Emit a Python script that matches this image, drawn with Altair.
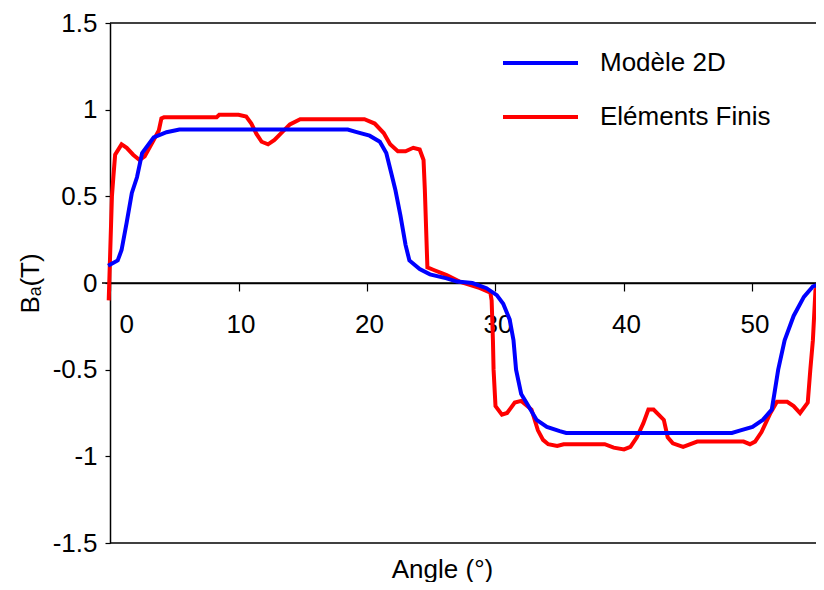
import altair as alt
import pandas as pd

series_names = ["Modèle 2D", "Eléments Finis"]
series_colors = ["#0000ff", "#ff0000"]

# Modèle 2D (blue)
blue_x = [-0.15, 0.6, 0.9, 1.3, 1.7, 2.1, 2.5, 3.4, 4.4, 5.4, 18.5, 19.2, 20.2, 21.0, 21.5,
          21.9, 22.2, 22.6, 23.0, 23.3, 24.1, 24.9, 26.2, 27.0, 28.2, 29.3, 30.1, 30.6, 31.1,
          31.4, 31.6, 32.0, 32.4, 33.2, 34.0, 35.0, 35.5, 48.4, 49.0, 50.0, 50.8, 51.5, 51.7,
          52.0, 52.5, 53.2, 54.0, 54.7, 55.5]
blue_y = [0.10, 0.13, 0.19, 0.35, 0.52, 0.61, 0.75, 0.84, 0.87, 0.885, 0.885, 0.87, 0.85, 0.815, 0.75,
          0.63, 0.54, 0.39, 0.22, 0.13, 0.08, 0.05, 0.027, 0.008, 0.0, -0.03, -0.07, -0.12, -0.21,
          -0.33, -0.50, -0.64, -0.69, -0.79, -0.83, -0.855, -0.865, -0.865, -0.852, -0.83, -0.79, -0.73, -0.64,
          -0.50, -0.33, -0.19, -0.08, -0.02, 0.0]

# Eléments Finis (red)
red_x = [-0.1, 0.15, 0.26, 0.4, 0.9, 1.3, 1.8, 2.3, 2.7, 3.4, 3.8, 4.0, 4.2, 8.3, 8.5, 10.0, 10.6,
         11.0, 11.4, 11.8, 12.3, 12.8, 13.4, 14.0, 14.8, 19.8, 20.6, 21.3, 21.8, 22.4, 23.0, 23.6,
         24.1, 24.4, 24.5, 24.7, 25.2, 26.2, 27.2, 28.8, 29.6, 29.7, 29.8, 29.85, 30.0, 30.5, 30.9,
         31.5, 32.0, 32.8, 33.3, 33.7, 34.1, 34.8, 35.3, 38.5, 39.2, 40.0, 40.5, 41.0, 41.5, 41.9,
         42.3, 43.1, 43.4, 43.8, 44.6, 45.7, 49.3, 49.8, 50.2, 50.7, 51.4, 51.9, 52.7, 53.2, 53.7,
         54.3, 54.5, 54.7, 54.9, 55.0, 55.5]
red_y = [-0.10, 0.5, 0.61, 0.74, 0.80, 0.78, 0.74, 0.71, 0.73, 0.825, 0.88, 0.95, 0.956, 0.956, 0.97, 0.97, 0.96,
         0.92, 0.86, 0.815, 0.80, 0.825, 0.87, 0.915, 0.945, 0.945, 0.92, 0.865, 0.80, 0.76, 0.76, 0.78,
         0.77, 0.71, 0.54, 0.09, 0.075, 0.046, 0.008, -0.03, -0.056, -0.10, -0.33, -0.50, -0.71, -0.76, -0.75,
         -0.69, -0.68, -0.73, -0.85, -0.905, -0.93, -0.94, -0.93, -0.93, -0.95, -0.96, -0.945, -0.89, -0.81, -0.73,
         -0.73, -0.79, -0.89, -0.925, -0.945, -0.915, -0.915, -0.93, -0.915, -0.86, -0.75, -0.685, -0.685, -0.71, -0.75,
         -0.69, -0.50, -0.33, -0.04, -0.03, -0.01]

x_ticks = [0, 10, 20, 30, 40, 50]
y_ticks = [-1.5, -1, -0.5, 0, 0.5, 1, 1.5]
x_title = "Angle (°)"
y_title = "Bₐ(T)"

FONT = "Liberation Sans"
W, H = 706, 520
XMAX = W / 12.85

blue_df = pd.DataFrame({"angle": blue_x, "B": blue_y, "serie": series_names[0]})
red_df = pd.DataFrame({"angle": red_x, "B": red_y, "serie": series_names[1]})

x_enc = alt.X(
    "angle:Q",
    scale=alt.Scale(domain=[0, XMAX], nice=False, zero=False),
    axis=alt.Axis(
        values=x_ticks, offset=-H / 2, title=x_title, titleY=286, titleBaseline="middle",
        labelFlush=True, labelFlushOffset=-7, labelOffset=2, tickSize=8, labelPadding=20,
        grid=False, domainColor="black", tickColor="black", labelColor="black",
        titleColor="black", labelFont=FONT, titleFont=FONT, labelFontSize=26,
        titleFontSize=26, titleFontWeight="normal", domainWidth=1.5, tickWidth=1.2,
        titleX=332,
    ),
)
y_enc = alt.Y(
    "B:Q",
    scale=alt.Scale(domain=[-1.5, 1.5], nice=False, zero=False),
    axis=alt.Axis(
        values=y_ticks, labelExpr="'' + datum.value", title=y_title, titleX=-72,
        titleBaseline="alphabetic", tickSize=5, labelPadding=8, grid=False,
        domainColor="black", tickColor="black", labelColor="black", titleColor="black",
        labelFont=FONT, titleFont=FONT, labelFontSize=26, titleFontSize=26,
        titleFontWeight="normal", domainWidth=1.5, tickWidth=1.2,
    ),
)

red_line = alt.Chart(red_df).mark_line(color=series_colors[1], strokeWidth=4).encode(x=x_enc, y=y_enc)
blue_line = alt.Chart(blue_df).mark_line(color=series_colors[0], strokeWidth=4).encode(x=x_enc, y=y_enc)

frame_df = pd.DataFrame({"edge": ["top"]})
frame_top = alt.Chart(frame_df).mark_rule(color="black", strokeWidth=1.5).encode(
    x=alt.value(0), x2=alt.value(W + 10), y=alt.value(0)
)
frame_bottom = alt.Chart(frame_df).mark_rule(color="black", strokeWidth=1.5).encode(
    x=alt.value(0), x2=alt.value(W + 10), y=alt.value(H)
)
zero_ext = alt.Chart(pd.DataFrame({"B": [0]})).mark_rule(color="black", strokeWidth=1.5).encode(
    y=alt.Y("B:Q"), x=alt.value(-8), x2=alt.value(W + 10)
)

layers = [frame_top, frame_bottom, zero_ext, red_line, blue_line]
for i, name in enumerate(series_names):
    ldf = pd.DataFrame({"serie": [name]})
    layers.append(
        alt.Chart(ldf).mark_rule(color=series_colors[i], strokeWidth=4).encode(
            x=alt.value(393), x2=alt.value(468), y=alt.value(40 + 54 * i)
        )
    )
    layers.append(
        alt.Chart(ldf).mark_text(align="left", baseline="middle", font=FONT, fontSize=26, color="black").encode(
            x=alt.value(490), y=alt.value(40 + 54 * i), text="serie:N"
        )
    )

chart = alt.layer(*layers).properties(
    width=W, height=H,
    autosize=alt.AutoSizeParams(type="none"),
    padding={"left": 102, "top": 15, "right": 0, "bottom": 39},
    background="white",
).configure_view(stroke=None)

chart.save("out.html", embed_options={"renderer": "svg", "actions": False})
